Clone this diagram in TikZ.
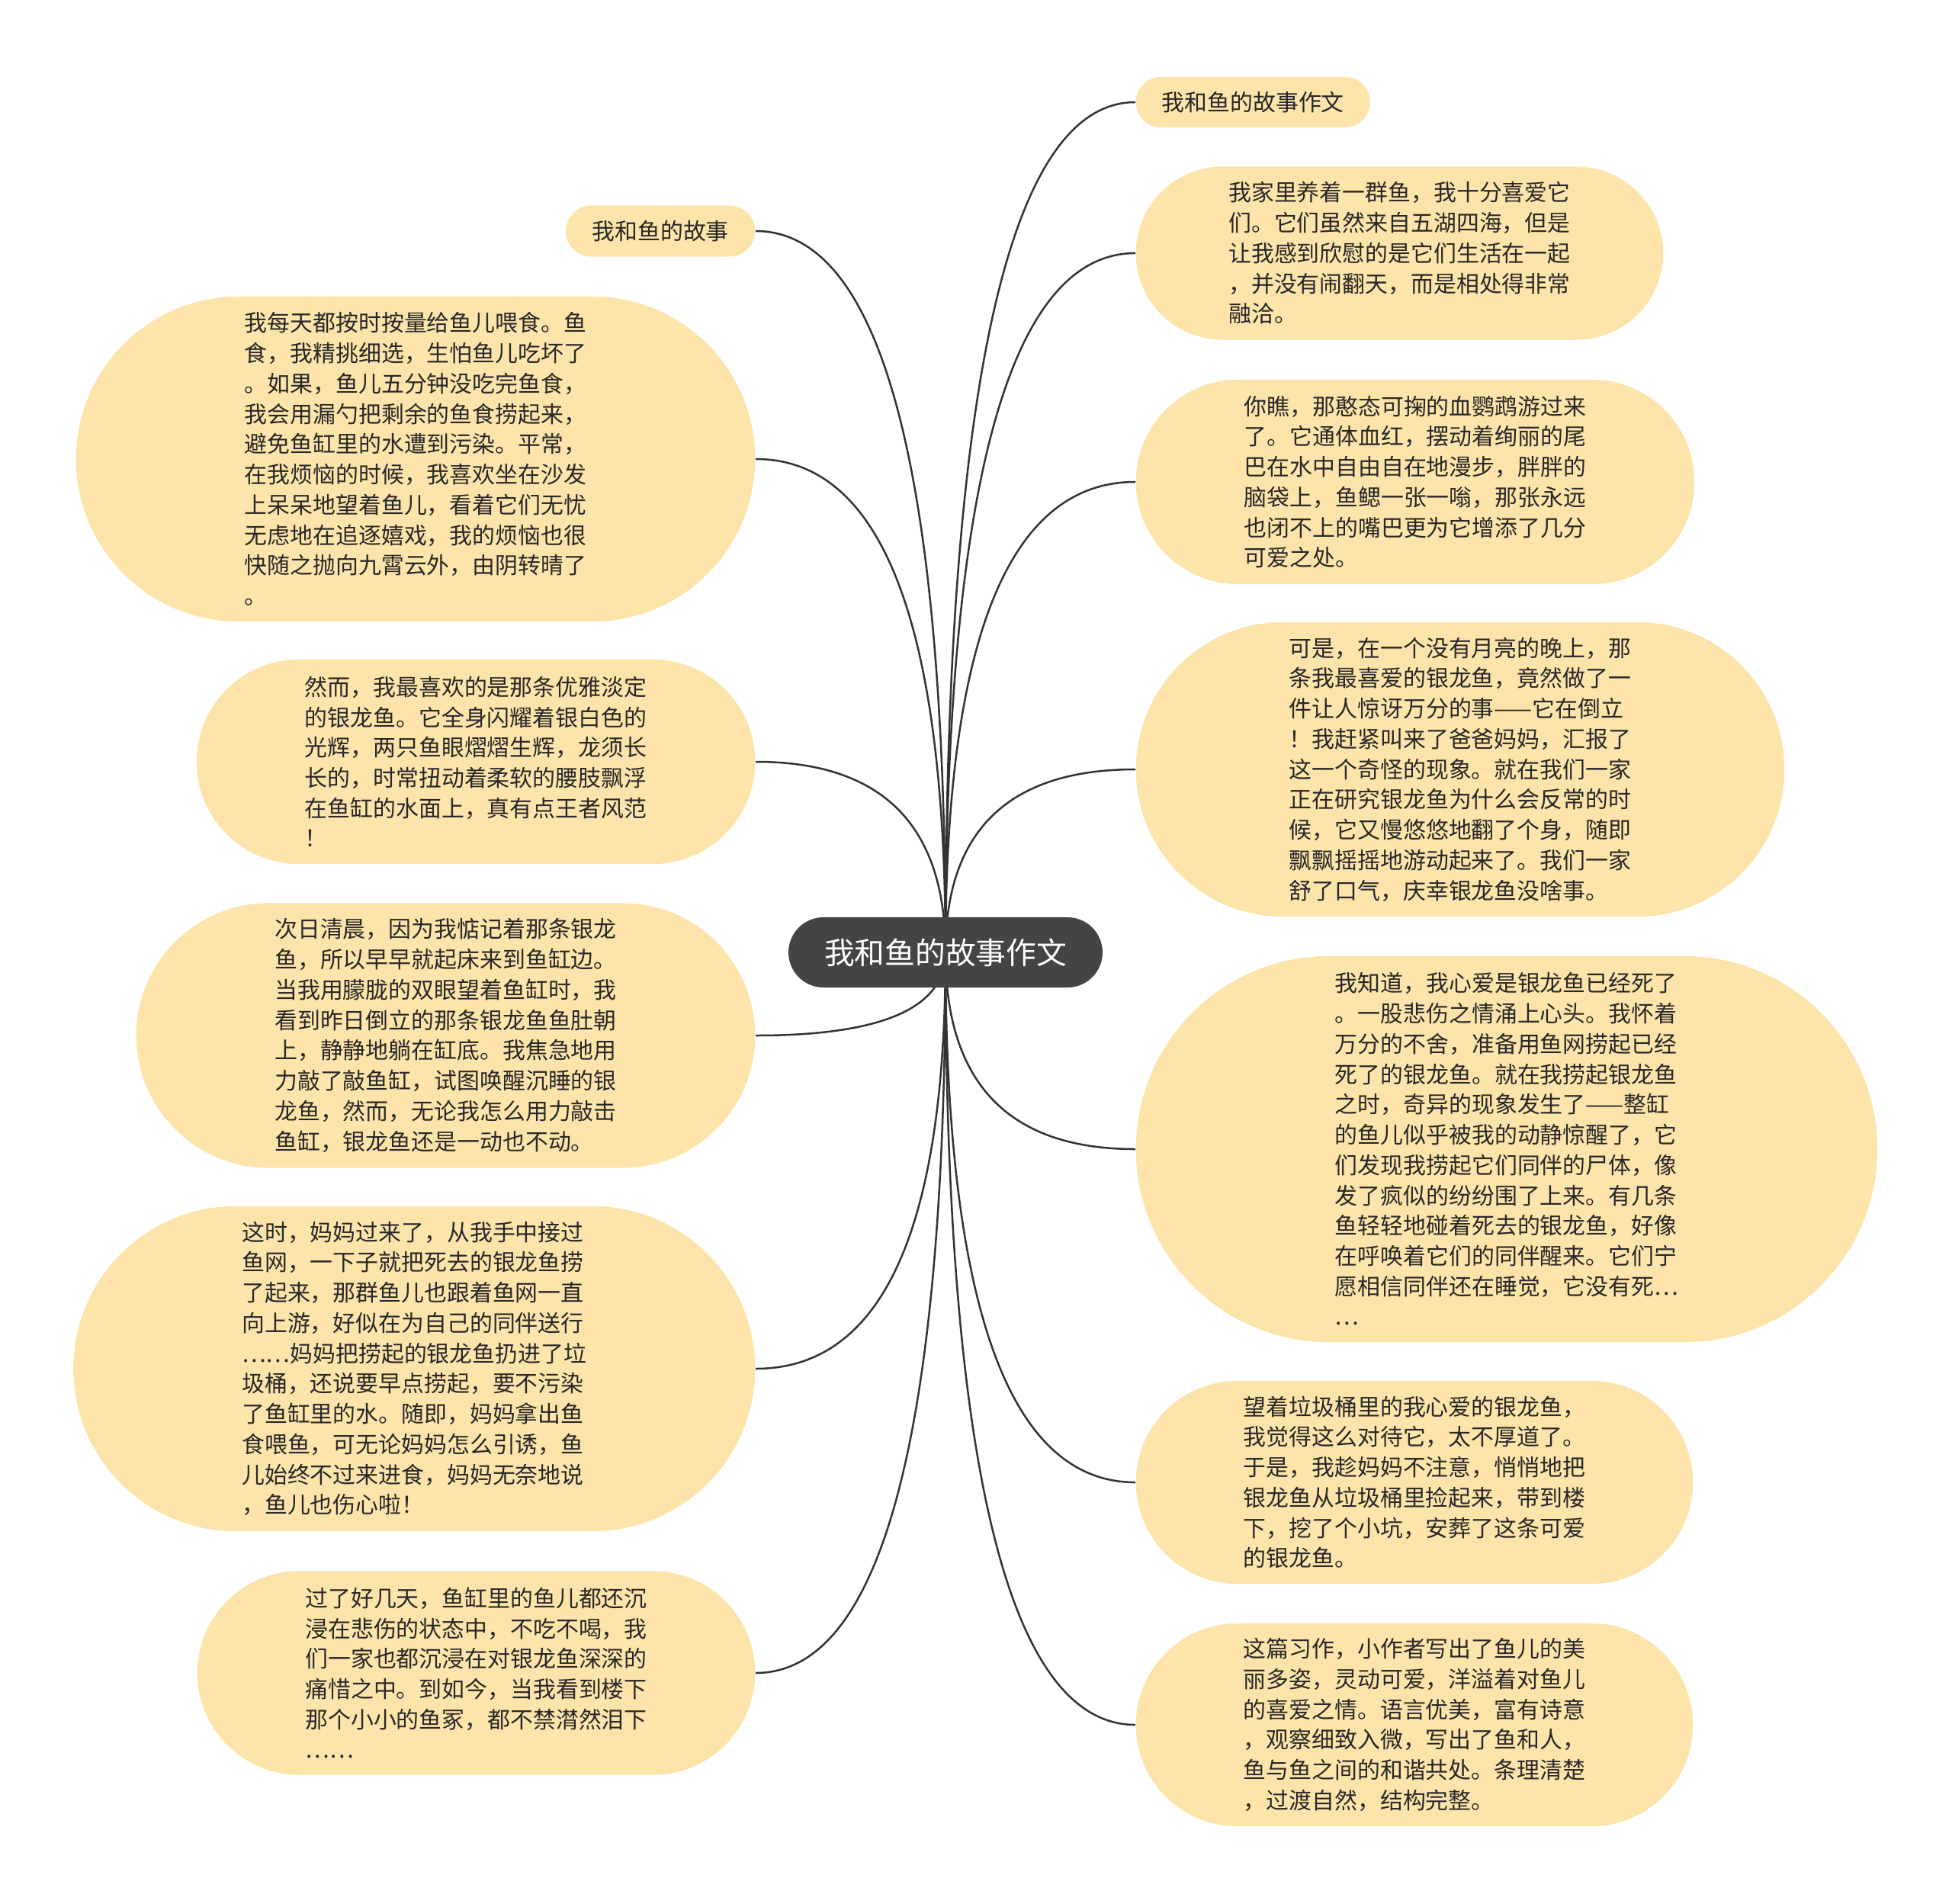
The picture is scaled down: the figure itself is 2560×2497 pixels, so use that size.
\documentclass[tikz,border=0pt]{standalone}
\usepackage{fontspec}
\setmainfont{Noto Sans CJK SC}
\usetikzlibrary{backgrounds}

\definecolor{fondfeuille}{RGB}{252,228,170}
\definecolor{fondcentre}{RGB}{68,68,68}
\definecolor{trait}{RGB}{51,51,51}
\definecolor{texte}{RGB}{40,40,40}

\tikzset{
  centre/.style = {rectangle, fill=fondcentre, text=white,
    font=\fontsize{11.3}{13}\selectfont, minimum height=0.92cm,
    rounded corners=0.46cm, inner xsep=0.47cm, inner ysep=0pt},
  feuille/.style = {rectangle, fill=fondfeuille, text=texte, align=left,
    font=\fontsize{8.5}{11.3}\selectfont, minimum height=#1,
    rounded corners=#1/2, inner xsep=#1/2+0.08cm, inner ysep=0pt},
  etiquette/.style = {rectangle, fill=fondfeuille, text=texte,
    font=\fontsize{8.5}{11.3}\selectfont, minimum height=#1,
    rounded corners=#1/2, inner xsep=#1/2+0.01cm, inner ysep=0pt},
  branche/.style = {draw=trait, line width=0.025cm}
}

\begin{document}
\begin{tikzpicture}[x=0.01cm, y=-0.01cm]
  \useasboundingbox (0,0) rectangle (2560,2497);

  % Le noeud central
  \node[centre] (c) at (1240,1249) {我和鱼的故事作文};

  % Les feuilles a droite
  \node[etiquette=0.66cm, anchor=west] (r1) at (1489,134) {我和鱼的故事作文};
  \node[feuille=2.27cm, anchor=west] (r2) at (1489,332) {我家里养着一群鱼，我十分喜爱它\\们。它们虽然来自五湖四海，但是\\让我感到欣慰的是它们生活在一起\\，并没有闹翻天，而是相处得非常\\融洽。};
  \node[feuille=2.68cm, anchor=west] (r3) at (1489,632) {你瞧，那憨态可掬的血鹦鹉游过来\\了。它通体血红，摆动着绚丽的尾\\巴在水中自由自在地漫步，胖胖的\\脑袋上，鱼鳃一张一嗡，那张永远\\也闭不上的嘴巴更为它增添了几分\\可爱之处。};
  \node[feuille=3.86cm, anchor=west] (r4) at (1489,1009) {可是，在一个没有月亮的晚上，那\\条我最喜爱的银龙鱼，竟然做了一\\件让人惊讶万分的事——它在倒立\\！我赶紧叫来了爸爸妈妈，汇报了\\这一个奇怪的现象。就在我们一家\\正在研究银龙鱼为什么会反常的时\\候，它又慢悠悠地翻了个身，随即\\飘飘摇摇地游动起来了。我们一家\\舒了口气，庆幸银龙鱼没啥事。};
  \node[feuille=5.06cm, anchor=west] (r5) at (1489,1507) {我知道，我心爱是银龙鱼已经死了\\。一股悲伤之情涌上心头。我怀着\\万分的不舍，准备用鱼网捞起已经\\死了的银龙鱼。就在我捞起银龙鱼\\之时，奇异的现象发生了——整缸\\的鱼儿似乎被我的动静惊醒了，它\\们发现我捞起它们同伴的尸体，像\\发了疯似的纷纷围了上来。有几条\\鱼轻轻地碰着死去的银龙鱼，好像\\在呼唤着它们的同伴醒来。它们宁\\愿相信同伴还在睡觉，它没有死…\\…};
  \node[feuille=2.66cm, anchor=west] (r6) at (1489,1944) {望着垃圾桶里的我心爱的银龙鱼，\\我觉得这么对待它，太不厚道了。\\于是，我趁妈妈不注意，悄悄地把\\银龙鱼从垃圾桶里捡起来，带到楼\\下，挖了个小坑，安葬了这条可爱\\的银龙鱼。};
  \node[feuille=2.66cm, anchor=west] (r7) at (1489,2262) {这篇习作，小作者写出了鱼儿的美\\丽多姿，灵动可爱，洋溢着对鱼儿\\的喜爱之情。语言优美，富有诗意\\，观察细致入微，写出了鱼和人，\\鱼与鱼之间的和谐共处。条理清楚\\，过渡自然，结构完整。};

  % Les feuilles a gauche
  \node[etiquette=0.67cm, anchor=east] (l1) at (991,303) {我和鱼的故事};
  \node[feuille=4.26cm, anchor=east] (l2) at (991,602) {我每天都按时按量给鱼儿喂食。鱼\\食，我精挑细选，生怕鱼儿吃坏了\\。如果，鱼儿五分钟没吃完鱼食，\\我会用漏勺把剩余的鱼食捞起来，\\避免鱼缸里的水遭到污染。平常，\\在我烦恼的时候，我喜欢坐在沙发\\上呆呆地望着鱼儿，看着它们无忧\\无虑地在追逐嬉戏，我的烦恼也很\\快随之抛向九霄云外，由阴转晴了\\。};
  \node[feuille=2.68cm, anchor=east] (l3) at (991,999) {然而，我最喜欢的是那条优雅淡定\\的银龙鱼。它全身闪耀着银白色的\\光辉，两只鱼眼熠熠生辉，龙须长\\长的，时常扭动着柔软的腰肢飘浮\\在鱼缸的水面上，真有点王者风范\\！};
  \node[feuille=3.47cm, anchor=east] (l4) at (991,1358) {次日清晨，因为我惦记着那条银龙\\鱼，所以早早就起床来到鱼缸边。\\当我用朦胧的双眼望着鱼缸时，我\\看到昨日倒立的那条银龙鱼鱼肚朝\\上，静静地躺在缸底。我焦急地用\\力敲了敲鱼缸，试图唤醒沉睡的银\\龙鱼，然而，无论我怎么用力敲击\\鱼缸，银龙鱼还是一动也不动。};
  \node[feuille=4.26cm, anchor=east] (l5) at (991,1795) {这时，妈妈过来了，从我手中接过\\鱼网，一下子就把死去的银龙鱼捞\\了起来，那群鱼儿也跟着鱼网一直\\向上游，好似在为自己的同伴送行\\……妈妈把捞起的银龙鱼扔进了垃\\圾桶，还说要早点捞起，要不污染\\了鱼缸里的水。随即，妈妈拿出鱼\\食喂鱼，可无论妈妈怎么引诱，鱼\\儿始终不过来进食，妈妈无奈地说\\，鱼儿也伤心啦！};
  \node[feuille=2.67cm, anchor=east] (l6) at (991,2194) {过了好几天，鱼缸里的鱼儿都还沉\\浸在悲伤的状态中，不吃不喝，我\\们一家也都沉浸在对银龙鱼深深的\\痛惜之中。到如今，当我看到楼下\\那个小小的鱼冢，都不禁潸然泪下\\……};

  % Les branches
  \begin{scope}[on background layer]
    \draw[branche] (c.center) .. controls +(0,-743) and +(-166,0) .. (r1.west);
    \draw[branche] (c.center) .. controls +(0,-611) and +(-166,0) .. (r2.west);
    \draw[branche] (c.center) .. controls +(0,-411) and +(-166,0) .. (r3.west);
    \draw[branche] (c.center) .. controls +(0,-160) and +(-166,0) .. (r4.west);
    \draw[branche] (c.center) .. controls +(0,172) and +(-166,0) .. (r5.west);
    \draw[branche] (c.center) .. controls +(0,463) and +(-166,0) .. (r6.west);
    \draw[branche] (c.center) .. controls +(0,675) and +(-166,0) .. (r7.west);
    \draw[branche] (c.center) .. controls +(0,-631) and +(166,0) .. (l1.east);
    \draw[branche] (c.center) .. controls +(0,-431) and +(166,0) .. (l2.east);
    \draw[branche] (c.center) .. controls +(0,-167) and +(166,0) .. (l3.east);
    \draw[branche] (c.center) .. controls +(0,73) and +(166,0) .. (l4.east);
    \draw[branche] (c.center) .. controls +(0,364) and +(166,0) .. (l5.east);
    \draw[branche] (c.center) .. controls +(0,630) and +(166,0) .. (l6.east);
  \end{scope}
\end{tikzpicture}
\end{document}
